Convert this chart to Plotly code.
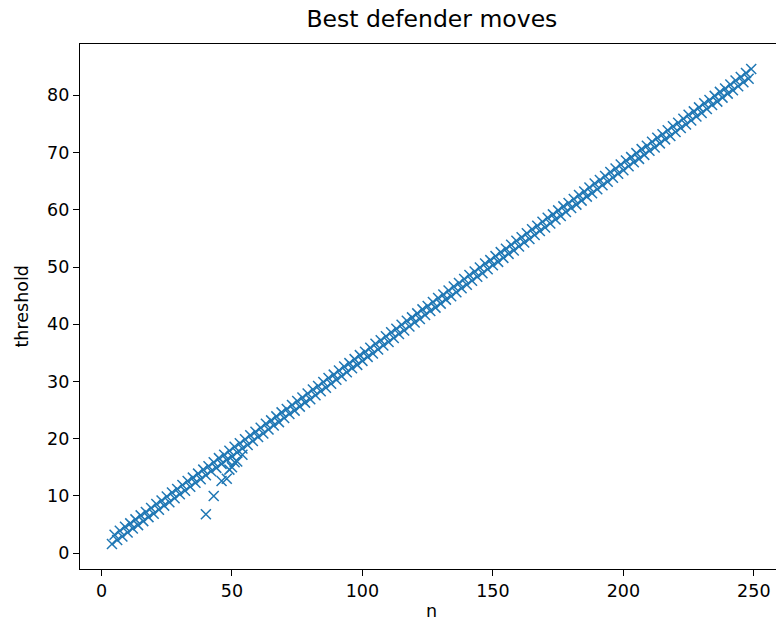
import plotly.graph_objects as go

# Board sizes examined
n = list(range(4, 250))

# Best defender threshold for each n (two interleaved rows: even n lower, odd n upper)
threshold = [
    1.6, 3.2, 2.3, 3.9, 2.9, 4.6,
    3.6, 5.2, 4.3, 5.9, 4.9, 6.6,
    5.6, 7.2, 6.3, 7.9, 6.9, 8.6,
    7.6, 9.2, 8.3, 9.9, 8.9, 10.6,
    9.6, 11.2, 10.3, 11.9, 10.9, 12.6,
    11.6, 13.2, 12.3, 13.9, 12.9, 14.6,
    13.6, 15.2, 14.3, 15.9, 14.9, 16.6,
    15.6, 17.2, 16.3, 17.9, 16.9, 18.6,
    17.6, 19.2, 18.3, 19.9, 18.9, 20.6,
    19.6, 21.2, 20.3, 21.9, 20.9, 22.6,
    21.6, 23.2, 22.3, 23.9, 22.9, 24.6,
    23.6, 25.2, 24.3, 25.9, 24.9, 26.6,
    25.6, 27.2, 26.3, 27.9, 26.9, 28.6,
    27.6, 29.2, 28.3, 29.9, 28.9, 30.6,
    29.6, 31.2, 30.3, 31.9, 30.9, 32.6,
    31.6, 33.2, 32.3, 33.9, 32.9, 34.6,
    33.6, 35.2, 34.3, 35.9, 34.9, 36.6,
    35.6, 37.2, 36.3, 37.9, 36.9, 38.6,
    37.6, 39.2, 38.3, 39.9, 38.9, 40.6,
    39.6, 41.2, 40.3, 41.9, 40.9, 42.6,
    41.6, 43.2, 42.3, 43.9, 42.9, 44.6,
    43.6, 45.2, 44.3, 45.9, 44.9, 46.6,
    45.6, 47.2, 46.3, 47.9, 46.9, 48.6,
    47.6, 49.2, 48.3, 49.9, 48.9, 50.6,
    49.6, 51.2, 50.3, 51.9, 50.9, 52.6,
    51.6, 53.2, 52.3, 53.9, 52.9, 54.6,
    53.6, 55.2, 54.3, 55.9, 54.9, 56.6,
    55.6, 57.2, 56.3, 57.9, 56.9, 58.6,
    57.6, 59.2, 58.3, 59.9, 58.9, 60.6,
    59.6, 61.2, 60.3, 61.9, 60.9, 62.6,
    61.6, 63.2, 62.3, 63.9, 62.9, 64.6,
    63.6, 65.2, 64.3, 65.9, 64.9, 66.6,
    65.6, 67.2, 66.3, 67.9, 66.9, 68.6,
    67.6, 69.2, 68.3, 69.9, 68.9, 70.6,
    69.6, 71.2, 70.3, 71.9, 70.9, 72.6,
    71.6, 73.2, 72.3, 73.9, 72.9, 74.6,
    73.6, 75.2, 74.3, 75.9, 74.9, 76.6,
    75.6, 77.2, 76.3, 77.9, 76.9, 78.6,
    77.6, 79.2, 78.3, 79.9, 78.9, 80.6,
    79.6, 81.2, 80.3, 81.9, 80.9, 82.6,
    81.6, 83.2, 82.3, 83.9, 82.9, 84.6,
]

# Additional best moves found below the main band for small boards
extra_n = [40, 43, 46, 48, 49, 50, 51, 52, 54]
extra_threshold = [6.8, 10.0, 12.6, 13.0, 14.6, 15.0, 15.9, 16.0, 17.2]

x_ticks = [0, 50, 100, 150, 200, 250]
y_ticks = [0, 10, 20, 30, 40, 50, 60, 70, 80]

BLUE = "#1f77b4"
FONT = "DejaVu Sans"

# Plot-area geometry in pixels
W, H = 776, 623
M_L, M_R, M_T, M_B = 80, 0, 44, 54
PLOT_W = W - M_L - M_R
PLOT_H = H - M_T - M_B

fig = go.Figure(
    go.Scatter(
        x=n + extra_n,
        y=threshold + extra_threshold,
        mode="markers",
        marker=dict(
            symbol="x-thin",
            size=10,
            color=BLUE,
            line=dict(width=1.5, color=BLUE),
        ),
        showlegend=False,
    )
)

axis_common = dict(
    showgrid=False,
    zeroline=False,
    showline=True,
    linecolor="black",
    linewidth=1.4,
    ticks="outside",
    ticklen=6,
    tickwidth=1.4,
    tickcolor="black",
    tickfont=dict(family=FONT, size=17.5, color="black"),
    automargin=False,
)

label_font = dict(family=FONT, size=17.5, color="black")

fig.update_layout(
    width=W,
    height=H,
    margin=dict(l=M_L, r=M_R, t=M_T, b=M_B),
    paper_bgcolor="white",
    plot_bgcolor="white",
    font=dict(family=FONT, color="black"),
    title=dict(
        text="Best defender moves",
        font=dict(family=FONT, size=23.5, color="black"),
        xref="container",
        yref="container",
        x=431.9 / W,
        y=1 - 19 / H,
        xanchor="center",
        yanchor="middle",
    ),
    xaxis=dict(
        **axis_common,
        range=[-8.25, 258.5],
        tickvals=x_ticks,
        ticktext=[str(v) for v in x_ticks],
        mirror=True,
    ),
    yaxis=dict(
        **axis_common,
        range=[-2.77, 88.97],
        tickvals=y_ticks,
        ticktext=[str(v) for v in y_ticks],
    ),
    annotations=[
        dict(
            text="n",
            xref="paper",
            yref="paper",
            x=(431.9 - M_L) / PLOT_W,
            y=-(611 - (H - M_B)) / PLOT_H,
            xanchor="center",
            yanchor="middle",
            showarrow=False,
            font=label_font,
        ),
        dict(
            text="threshold",
            xref="paper",
            yref="paper",
            x=(21 - M_L) / PLOT_W,
            y=0.5,
            xanchor="center",
            yanchor="middle",
            textangle=-90,
            showarrow=False,
            font=label_font,
        ),
    ],
)

fig.write_html("out.html")
